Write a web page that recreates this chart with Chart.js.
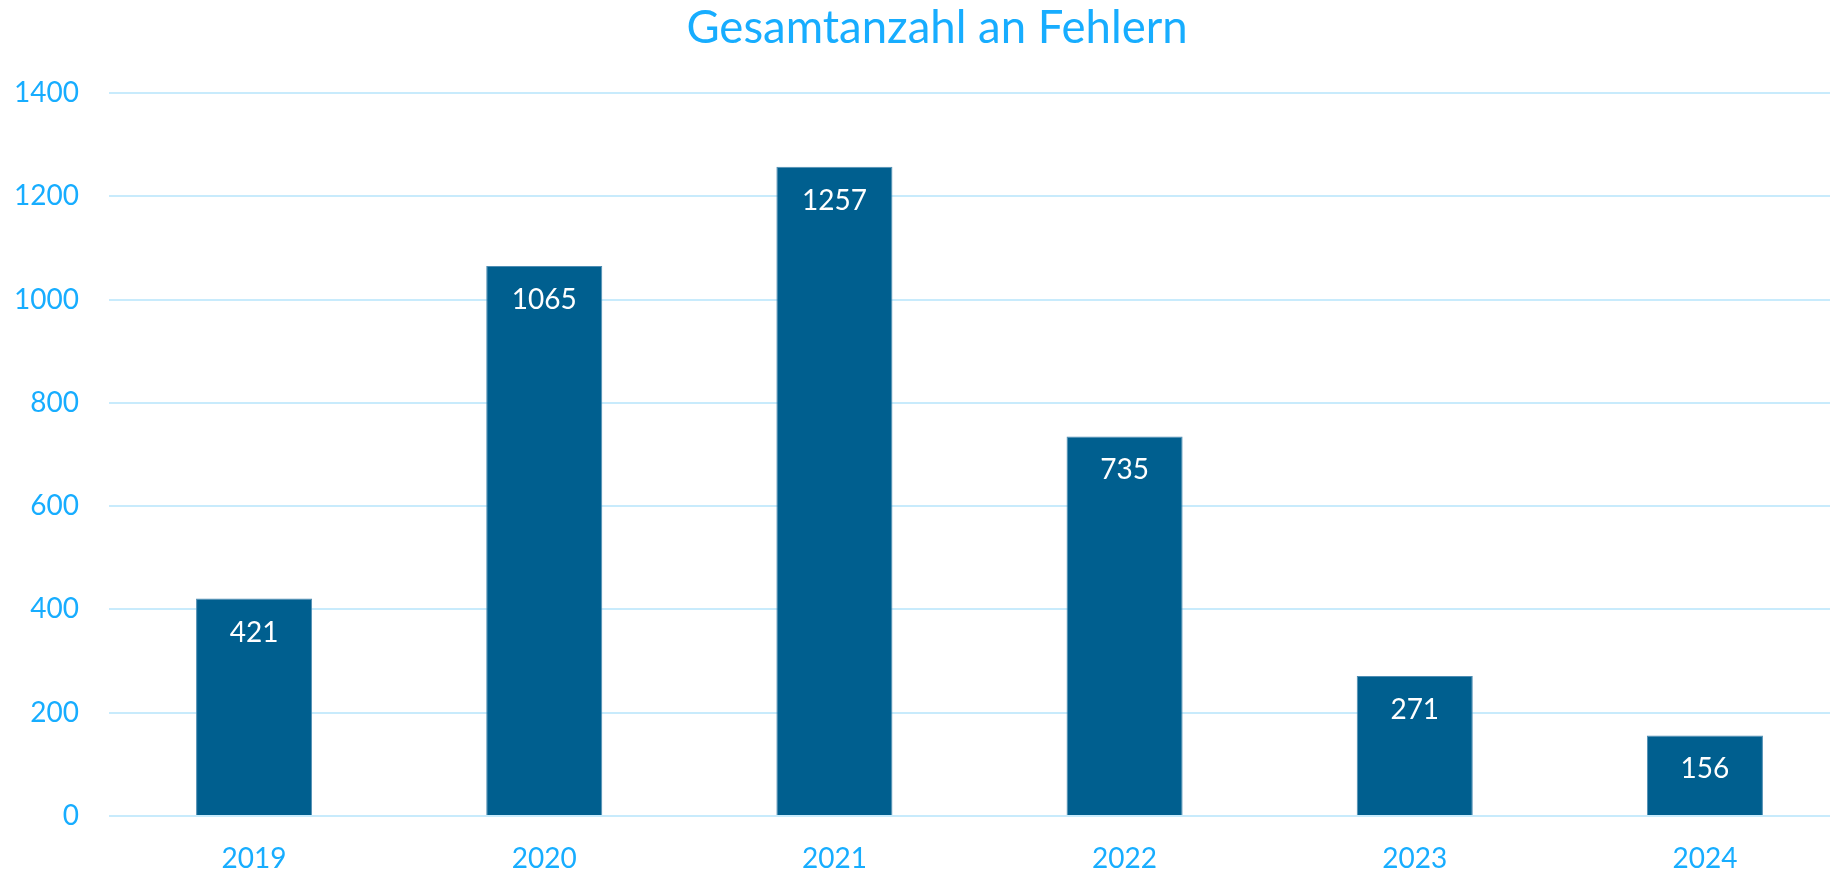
<!DOCTYPE html>
<html lang="de">
<head>
<meta charset="utf-8">
<title>Gesamtanzahl an Fehlern</title>
<script src="https://cdn.jsdelivr.net/npm/chart.js@4.4.1/dist/chart.umd.min.js"></script>
<style>
  html, body { margin: 0; padding: 0; background: #fff; overflow: hidden; }
  #wrap { width: 1874px; height: 873px; }
</style>
</head>
<body>
<div id="wrap"><canvas id="chartErrors"></canvas></div>
<script>
  const years = ["2019", "2020", "2021", "2022", "2023", "2024"];
  const errorCounts = [421, 1065, 1257, 735, 271, 156];
  const yTicks = [0, 200, 400, 600, 800, 1000, 1200, 1400];

  const titleText = "Gesamtanzahl an Fehlern";
  const accent = "#17adff";
  const barBlue = "#005f8f";
  const gridBlue = "#c8ebfc";
  const fontFamily = "Lato, 'Open Sans', sans-serif";

  // title centred over the full (wider than window) chart width
  const titlePlugin = {
    id: "fixedTitle",
    afterDraw(chart) {
      const ctx = chart.ctx;
      ctx.save();
      ctx.font = "45.5px " + fontFamily;
      ctx.fillStyle = accent;
      ctx.textAlign = "center";
      ctx.textBaseline = "middle";
      ctx.fillText(titleText, chart.width / 2, 28);
      ctx.restore();
    },
  };

  // value labels inside the top of each bar
  const valueLabels = {
    id: "valueLabels",
    afterDatasetsDraw(chart) {
      const ctx = chart.ctx;
      const meta = chart.getDatasetMeta(0);
      ctx.save();
      ctx.font = "28px " + fontFamily;
      ctx.fillStyle = "#ffffff";
      ctx.textAlign = "center";
      ctx.textBaseline = "middle";
      meta.data.forEach((bar, i) => {
        ctx.fillText(String(errorCounts[i]), bar.x, bar.y + 34);
      });
      ctx.restore();
    },
  };

  new Chart(document.getElementById("chartErrors"), {
    type: "bar",
    data: {
      labels: years,
      datasets: [
        {
          label: titleText,
          data: errorCounts,
          backgroundColor: barBlue,
          borderColor: "#4f8db3",
          borderWidth: 1,
          barPercentage: 1,
          categoryPercentage: 0.4,
        },
      ],
    },
    options: {
      responsive: true,
      maintainAspectRatio: false,
      animation: false,
      layout: { padding: { top: 93, right: 24, left: 0, bottom: 0 } },
      plugins: {
        legend: { display: false },
        title: { display: false },
        tooltip: { enabled: false },
      },
      scales: {
        x: {
          grid: { display: false, drawTicks: false },
          border: { display: false },
          ticks: { color: accent, font: { family: fontFamily, size: 28 }, padding: 26 },
          afterFit: (s) => { s.height = 57; },
        },
        y: {
          min: 0,
          max: 1400,
          afterBuildTicks: (s) => { s.ticks = yTicks.map((v) => ({ value: v })); },
          grid: { color: gridBlue, lineWidth: 2, drawTicks: false },
          border: { display: false },
          ticks: {
            color: accent,
            font: { family: fontFamily, size: 28 },
            padding: 30,
            callback: (v) => String(v),
          },
          afterFit: (s) => { s.width = 109; },
        },
      },
    },
    plugins: [titlePlugin, valueLabels],
  });
</script>
</body>
</html>
